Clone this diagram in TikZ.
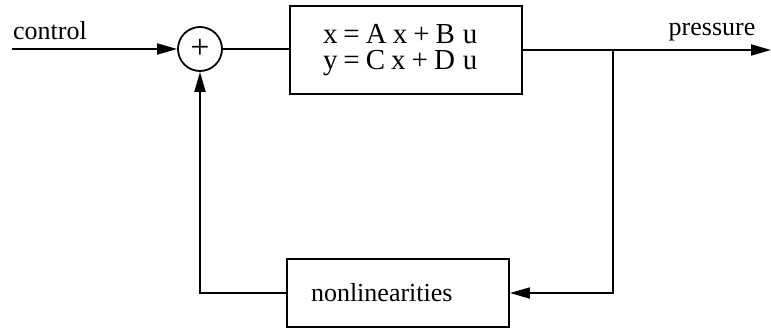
\documentclass[tikz,border=0pt]{standalone}
\usepackage{fontspec}
\setmainfont{Liberation Serif}
\usetikzlibrary{arrows.meta}

\begin{document}
\begin{tikzpicture}[x=0.5pt, y=-0.5pt, line width=0.9pt,
    >={Triangle[length=10pt,width=5.5pt]},
    font=\fontsize{13}{13}\selectfont]
    % Rahmen
    \useasboundingbox (0,0) rectangle (771,328);

    % Knoten
    \node[draw, circle, minimum size=22pt, inner sep=0pt, font=\fontsize{17}{17}\selectfont] (sum) at (200,49) {+};
    \node[draw, rectangle, minimum width=116pt, minimum height=44pt,
          text width=83pt, inner xsep=16.5pt, align=left,
          font=\fontsize{14.5}{13}\selectfont] (plant) at (406,50)
        {x\hspace{3pt}=\hspace{3pt}A\hspace{3pt}x\hspace{3pt}+\hspace{3pt}B\hspace{4pt}u\\
         y\hspace{3pt}=\hspace{3pt}C\hspace{3pt}x\hspace{3pt}+\hspace{3pt}D\hspace{4pt}u};
    \node[draw, rectangle, minimum width=111pt, minimum height=34pt,
          text width=87pt, inner xsep=12pt, align=left] (nonlin) at (398,293)
        {nonlinearities};

    % Hilfspunkte
    \coordinate (in) at (12,49);
    \coordinate (out) at (771,50);
    \coordinate (branch) at (613,50);
    \coordinate (back) at (613,293);
    \coordinate (corner) at (200,293);

    % Vorwaertszweig
    \draw[->] (in) -- (sum);
    \node (control) at (50,31) {control};
    \draw (sum) -- (sum -| plant.west);
    \draw[->] (plant.east |- out) -- (out);
    \node (pressure) at (712,32) {pressure};

    % Rueckfuehrung
    \draw[->] (branch) -- (back) -- (nonlin.east |- back);
    \draw[->] (nonlin.west |- corner) -- (corner) -- (sum.south);
\end{tikzpicture}
\end{document}
